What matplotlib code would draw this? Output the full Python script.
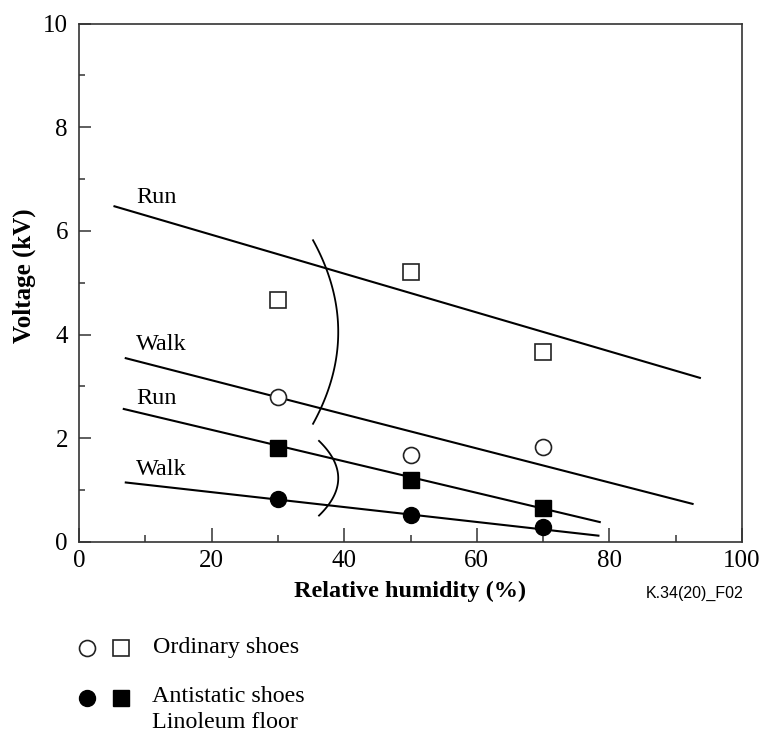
import numpy as np
import matplotlib
matplotlib.use("Agg")
import matplotlib.pyplot as plt
from matplotlib.lines import Line2D

plt.rcParams['font.family'] = ['Liberation Serif', 'DejaVu Serif']

# measured points, relative humidity (%) vs voltage (kV)
humidity = [30, 50, 70]
ordinary_run = [4.67, 5.20, 3.66]
ordinary_walk = [2.80, 1.68, 1.84]
antistatic_run = [1.82, 1.20, 0.65]
antistatic_walk = [0.83, 0.53, 0.28]

# hand-drawn trend lines: (x start, x end), (y start, y end)
trend_x = [(5.2, 93.8), (6.9, 92.7), (6.6, 78.7), (6.9, 78.5)]
trend_y = [(6.48, 3.16), (3.55, 0.73), (2.57, 0.38), (1.15, 0.12)]
trend_labels = ["Run", "Walk", "Run", "Walk"]
label_x = [8.6, 8.6, 8.6, 8.6]
label_y = [6.65, 3.80, 2.76, 1.39]

# brackets: end x, apex x, y bottom, y top
brackets = [(35.3, 39.1, 2.28, 5.82), (36.2, 39.1, 0.51, 1.95)]

fig = plt.figure(figsize=(7.61, 7.33), dpi=100)
ax = fig.add_axes([79 / 761, 191 / 733, 663 / 761, 518.5 / 733])

for (x0, x1), (y0, y1) in zip(trend_x, trend_y):
    ax.plot([x0, x1], [y0, y1], color='black', lw=1.5, solid_capstyle='butt')

for txt, lx, ly in zip(trend_labels, label_x, label_y):
    ax.text(lx, ly, txt, fontsize=17.5, va='center', ha='left')

for xe, xa, yb, yt in brackets:
    t = np.linspace(-1, 1, 100)
    bx = xe + (xa - xe) * (1 - t ** 2)
    by = (yb + yt) / 2 + t * (yt - yb) / 2
    ax.plot(bx, by, color='black', lw=1.3)

ms = 11.5
ax.plot(humidity, ordinary_run, 's', ms=ms, mfc='white', mec='#222222', mew=1.2)
ax.plot(humidity, ordinary_walk, 'o', ms=ms, mfc='white', mec='#222222', mew=1.2)
ax.plot(humidity, antistatic_run, 's', ms=ms, mfc='black', mec='black')
ax.plot(humidity, antistatic_walk, 'o', ms=ms, mfc='black', mec='black')

ax.set_xlim(0, 100)
ax.set_ylim(0, 10)
ax.set_xticks([0, 20, 40, 60, 80, 100])
ax.set_xticks([10, 30, 50, 70, 90], minor=True)
ax.set_yticks([0, 2, 4, 6, 8, 10])
ax.set_yticks([1, 3, 5, 7, 9], minor=True)
ax.tick_params(axis='x', which='major', direction='in', length=10, width=1.1, labelsize=18, pad=6, color='#333333')
ax.tick_params(axis='x', which='minor', direction='in', length=5, width=1.1, color='#333333')
ax.tick_params(axis='y', which='major', direction='in', length=8.5, width=1.1, labelsize=18, pad=8, color='#333333')
ax.tick_params(axis='y', which='minor', direction='in', length=4.5, width=1.1, color='#333333')
for sp in ax.spines.values():
    sp.set_linewidth(1.2)
    sp.set_color('#333333')

ax.set_xlabel('Relative humidity (%)', fontsize=17.5, fontweight='bold', labelpad=6)
ax.set_ylabel('Voltage (kV)', fontsize=18, fontweight='bold')
ax.yaxis.set_label_coords(-0.065, 0.513)

fig.text(646 / 761, 1 - 593 / 733, 'K.34(20)_F02', family='Liberation Sans', fontsize=11.5, va='center', ha='left')

# legend drawn by hand below the axes
def fx(px):
    return px / 761

def fy(py):
    return 1 - py / 733

for mk, px in [('o', 86.5), ('s', 121)]:
    fig.add_artist(Line2D([fx(px)], [fy(648)], marker=mk, ms=ms, mfc='white', mec='#222222', mew=1.2, ls='none'))
    fig.add_artist(Line2D([fx(px)], [fy(698)], marker=mk, ms=ms, mfc='black', mec='black', ls='none'))
fig.text(fx(153), fy(647), 'Ordinary shoes', fontsize=17.3, va='center', ha='left')
fig.text(fx(152), fy(697), 'Antistatic shoes', fontsize=17.3, va='center', ha='left')
fig.text(fx(152), fy(723), 'Linoleum floor', fontsize=17.3, va='center', ha='left')

fig.savefig('out.png', dpi=100)
